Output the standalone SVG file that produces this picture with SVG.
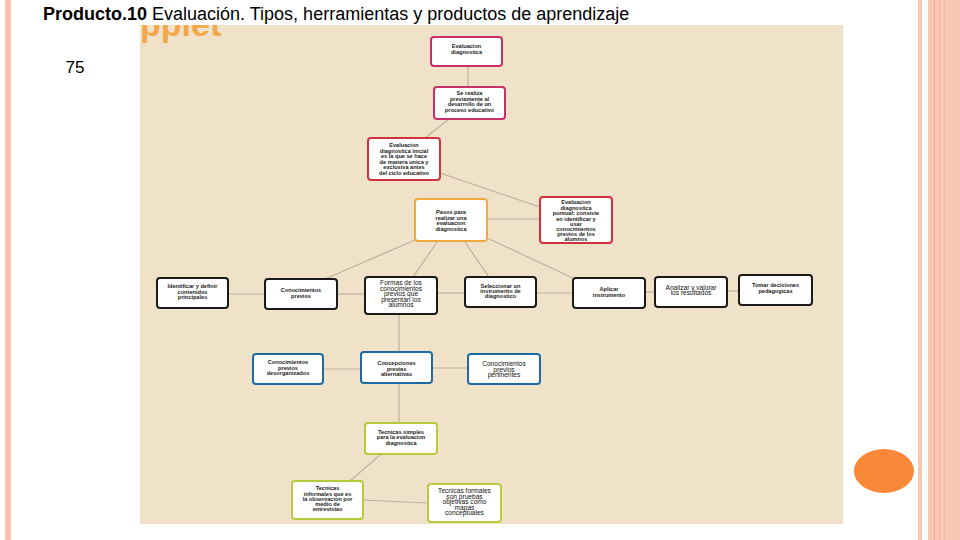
<svg xmlns="http://www.w3.org/2000/svg" width="960" height="540" viewBox="0 0 960 540">
<style>
.t{font-family:"Liberation Sans",Arial,sans-serif;font-size:5.6px;font-weight:bold;fill:#222;text-anchor:middle}
.tl{font-family:"Liberation Sans",Arial,sans-serif;font-size:6.6px;fill:#111;text-anchor:middle}
.box{fill:#fff;stroke-width:2}
.mg{stroke:#c8306c}
.rd{stroke:#d0323e}
.or{stroke:#f0a840}
.bk{stroke:#1a1a1a}
.bl{stroke:#1f6aa0}
.yg{stroke:#b9c93e}
.c line{stroke:#bdb2a2;stroke-width:1.2}
</style>
<defs>
<clipPath id="imgclip"><rect x="140" y="25" width="703" height="499"/></clipPath>
</defs>
<rect width="960" height="540" fill="#fff"/>
<rect x="5" y="0" width="6" height="540" fill="#f7c3b0"/>
<rect x="918" y="0" width="4" height="540" fill="#f9c6b3"/>
<rect x="928" y="0" width="32" height="540" fill="#f9c7b4"/>
<rect x="934" y="0" width="1" height="540" fill="#efa891"/>
<rect x="939" y="0" width="1" height="540" fill="#f2b39d"/>
<rect x="944" y="0" width="1" height="540" fill="#f4b8a3"/>
<ellipse cx="884" cy="471" rx="30" ry="22" fill="#f98938"/>
<rect x="140" y="25" width="703" height="499" fill="#f0e1c9"/>
<text x="140" y="36" clip-path="url(#imgclip)" font-family="Liberation Sans, Arial, sans-serif" font-size="34" font-weight="bold" fill="#f2a84a">pplet</text>
<text x="43" y="20" font-family="Liberation Sans, Arial, sans-serif" font-size="18" fill="#000"><tspan font-weight="bold">Producto.10</tspan> Evaluación. Tipos, herramientas y productos de aprendizaje</text>
<text x="75" y="73" font-family="Liberation Sans, Arial, sans-serif" font-size="17" fill="#000" text-anchor="middle">75</text>
<g id="connectors" class="c">
<line x1="468" y1="66" x2="468" y2="87"/>
<line x1="449" y1="119" x2="425" y2="138"/>
<line x1="440" y1="173" x2="540" y2="207"/>
<line x1="487" y1="219" x2="540" y2="219"/>
<line x1="415" y1="240" x2="325" y2="279"/>
<line x1="437" y1="242" x2="413" y2="277"/>
<line x1="465" y1="242" x2="489" y2="277"/>
<line x1="487" y1="238" x2="573" y2="278"/>
<line x1="228" y1="294" x2="265" y2="294"/>
<line x1="337" y1="294" x2="365" y2="294"/>
<line x1="437" y1="293" x2="465" y2="293"/>
<line x1="536" y1="293" x2="573" y2="293"/>
<line x1="645" y1="292" x2="655" y2="292"/>
<line x1="727" y1="291" x2="739" y2="291"/>
<line x1="399" y1="314" x2="399" y2="352"/>
<line x1="323" y1="369" x2="361" y2="369"/>
<line x1="432" y1="368" x2="468" y2="368"/>
<line x1="399" y1="383" x2="399" y2="423"/>
<line x1="380" y1="455" x2="350" y2="481"/>
<line x1="363" y1="500" x2="428" y2="503"/>
</g>
<g id="n1"><rect class="box mg" x="431" y="37" width="71" height="29" rx="3"/>
<text class="t"><tspan x="466.5" y="48">Evaluacion</tspan><tspan x="466.5" y="54">diagnostica</tspan></text></g>
<g id="n2"><rect class="box mg" x="434" y="87" width="71" height="32" rx="3"/>
<text class="t"><tspan x="469.5" y="95">Se realiza</tspan><tspan x="469.5" y="100.5">previamente al</tspan><tspan x="469.5" y="106">desarrollo de un</tspan><tspan x="469.5" y="111.5">proceso educativo</tspan></text></g>
<g id="n3"><rect class="box rd" x="368" y="138" width="72" height="42" rx="3"/>
<text class="t"><tspan x="404" y="147">Evaluacion</tspan><tspan x="404" y="152.5">diagnostica inicial</tspan><tspan x="404" y="158">es la que se hace</tspan><tspan x="404" y="163.5">de manera unica y</tspan><tspan x="404" y="169">exclusiva antes</tspan><tspan x="404" y="174.5">del ciclo educativo</tspan></text></g>
<g id="n4"><rect class="box or" x="415" y="199" width="72" height="42" rx="3"/>
<text class="t"><tspan x="451" y="214">Pasos para</tspan><tspan x="451" y="219.5">realizar una</tspan><tspan x="451" y="225">evaluacion</tspan><tspan x="451" y="230.5">diagnostica</tspan></text></g>
<g id="n5"><rect class="box rd" x="540" y="197" width="72" height="46" rx="3"/>
<text class="t"><tspan x="576" y="204">Evaluacion</tspan><tspan x="576" y="209.5">diagnostica</tspan><tspan x="576" y="215">puntual: consiste</tspan><tspan x="576" y="220.5">en identificar y</tspan><tspan x="576" y="226">usar</tspan><tspan x="576" y="231">conocimientos</tspan><tspan x="576" y="236">previos de los</tspan><tspan x="576" y="241">alumnos</tspan></text></g>
<g id="n6"><rect class="box bk" x="157" y="278" width="71" height="30" rx="3"/>
<text class="t"><tspan x="192.5" y="288">Identificar y definir</tspan><tspan x="192.5" y="293.5">contenidos</tspan><tspan x="192.5" y="299">principales</tspan></text></g>
<g id="n7"><rect class="box bk" x="265" y="279" width="72" height="30" rx="3"/>
<text class="t"><tspan x="301" y="292">Conocimientos</tspan><tspan x="301" y="297.5">previos</tspan></text></g>
<g id="n8"><rect class="box bk" x="365" y="277" width="72" height="37" rx="3"/>
<text class="tl"><tspan x="401" y="285">Formas de los</tspan><tspan x="401" y="290.5">conocimientos</tspan><tspan x="401" y="296">previos que</tspan><tspan x="401" y="301.5">presentan los</tspan><tspan x="401" y="307">alumnos</tspan></text></g>
<g id="n9"><rect class="box bk" x="465" y="277" width="71" height="30" rx="3"/>
<text class="t"><tspan x="500.5" y="288">Seleccionar un</tspan><tspan x="500.5" y="293">instrumento de</tspan><tspan x="500.5" y="298">diagnostico</tspan></text></g>
<g id="n10"><rect class="box bk" x="573" y="278" width="72" height="30" rx="3"/>
<text class="t"><tspan x="609" y="291">Aplicar</tspan><tspan x="609" y="296.5">instrumento</tspan></text></g>
<g id="n11"><rect class="box bk" x="655" y="277" width="72" height="30" rx="3"/>
<text class="tl"><tspan x="691" y="289.5">Analizar y valorar</tspan><tspan x="691" y="295">los resultados</tspan></text></g>
<g id="n12"><rect class="box bk" x="739" y="275" width="73" height="30" rx="3"/>
<text class="t"><tspan x="775.5" y="287">Tomar decisiones</tspan><tspan x="775.5" y="292.5">pedagogicas</tspan></text></g>
<g id="n13"><rect class="box bl" x="253" y="354" width="70" height="30" rx="3"/>
<text class="t"><tspan x="288" y="364">Conocimientos</tspan><tspan x="288" y="369.5">previos</tspan><tspan x="288" y="375">desorganizados</tspan></text></g>
<g id="n14"><rect class="box bl" x="361" y="352" width="71" height="31" rx="3"/>
<text class="t"><tspan x="396.5" y="365">Concepciones</tspan><tspan x="396.5" y="370.5">previas</tspan><tspan x="396.5" y="376">alternativas</tspan></text></g>
<g id="n15"><rect class="box bl" x="468" y="354" width="72" height="30" rx="3"/>
<text class="tl"><tspan x="504" y="366">Conocimientos</tspan><tspan x="504" y="371.5">previos</tspan><tspan x="504" y="377">pertinentes</tspan></text></g>
<g id="n16"><rect class="box yg" x="365" y="423" width="72" height="31" rx="3"/>
<text class="t"><tspan x="401" y="433.5">Tecnicas simples</tspan><tspan x="401" y="439">para la evaluacion</tspan><tspan x="401" y="444.5">diagnostica</tspan></text></g>
<g id="n17"><rect class="box yg" x="292" y="481" width="71" height="38" rx="3"/>
<text class="t"><tspan x="327.5" y="490">Tecnicas</tspan><tspan x="327.5" y="495.5">informales que es</tspan><tspan x="327.5" y="501">la observacion por</tspan><tspan x="327.5" y="506">medio de</tspan><tspan x="327.5" y="511">entrevistas</tspan></text></g>
<g id="n18"><rect class="box yg" x="428" y="484" width="73" height="38" rx="3"/>
<text class="tl"><tspan x="464.5" y="493">Tecnicas formales</tspan><tspan x="464.5" y="498.5">son pruebas</tspan><tspan x="464.5" y="504">objetivas como</tspan><tspan x="464.5" y="509.5">mapas</tspan><tspan x="464.5" y="515">conceptuales</tspan></text></g>
</svg>
